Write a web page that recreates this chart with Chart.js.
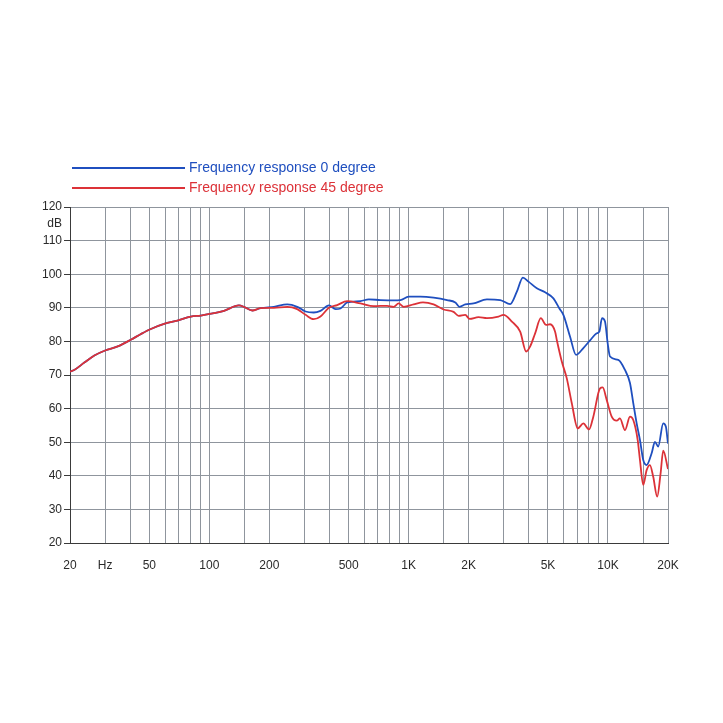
<!DOCTYPE html>
<html>
<head>
<meta charset="utf-8">
<title>Frequency response</title>
<script src="https://cdn.jsdelivr.net/npm/chart.js@4.4.1/dist/chart.umd.min.js"></script>
<style>
    html, body { margin: 0; padding: 0; background: #fff; }
    #wrap { width: 723px; height: 723px; position: relative; }
</style>
</head>
<body>
<div id="wrap"><canvas id="fr"></canvas></div>
<script>
// Frekans (Hz) ve seviye (dB) değerleri
const freq0 = [20, 21, 23.6, 26.5, 30, 34.7, 40.4, 45.4, 50.9, 59.3, 69.2, 80.7, 90.6, 105.6, 118.5, 140.8, 149.2, 164.4, 180.9,
    210.9, 246, 276, 304, 334, 361, 398, 430, 455, 492, 573, 631, 722, 841, 909, 1000, 1144, 1334, 1557, 1714, 1800, 1923,
    2116, 2470, 2879, 3231, 3490, 3741, 3991, 4395, 4836, 5322, 5704, 5973, 6454, 6916, 7522, 8127, 8779, 9046, 9333, 9661,
    9966, 10235, 11260, 12168, 12891, 13390, 13926, 14465, 15026, 15625, 16554, 17196, 17860, 18923, 19520, 20000];
const spl0 = [71.0, 71.5, 73.7, 75.8, 77.3, 78.5, 80.5, 82.2, 83.7, 85.2, 86.2, 87.4, 87.7, 88.4, 89.1, 90.7, 90.3, 89.2, 89.9,
    90.3, 91.0, 90.3, 88.9, 88.6, 89.1, 90.7, 89.6, 89.8, 91.6, 92.0, 92.5, 92.3, 92.2, 92.3, 93.3, 93.3, 93.0, 92.3, 91.6, 90.3, 91.0,
    91.3, 92.5, 92.3, 91.1, 94.8, 99.0, 97.8, 95.8, 94.6, 92.8, 89.8, 87.9, 81.4, 76.0, 78.0, 80.3, 82.4, 82.9, 86.9, 85.9,
    79.4, 75.5, 74.5, 71.5, 67.6, 61.6, 55.6, 50.7, 44.7, 43.2, 46.7, 50.1, 48.7, 55.6, 54.6, 49.6];

const freq45 = [20, 21, 23.6, 26.5, 30, 34.7, 40.4, 45.4, 50.9, 59.3, 69.2, 80.7, 90.6, 105.6, 118.5, 140.8, 149.2, 164.4, 180.9,
    210.9, 246, 276, 304, 334, 361, 398, 438, 491, 573, 668, 780, 841, 891, 944, 1059, 1180, 1334, 1497, 1680, 1780, 1923,
    2021, 2242, 2470, 2823, 2991, 3295, 3626, 3886, 4070, 4310, 4603, 4893, 5124, 5428, 5536, 5864, 6212, 6582, 7053, 7522,
    8034, 8440, 9120, 9408, 9851, 10437, 11055, 11482, 12168, 12891, 13390, 14087, 14465, 15026, 15625, 16233, 16862, 17656,
    18360, 18923, 20000];
const spl45 = [71.0, 71.5, 73.7, 75.8, 77.3, 78.5, 80.5, 82.2, 83.7, 85.2, 86.2, 87.4, 87.7, 88.4, 89.1, 90.7, 90.3, 89.2, 89.9,
    90.0, 90.3, 89.6, 87.9, 86.6, 87.4, 90.0, 90.8, 92.0, 91.3, 90.5, 90.6, 90.3, 91.3, 90.3, 91.0, 91.6, 91.0, 89.5, 88.8, 87.6, 87.9,
    86.7, 87.2, 86.9, 87.4, 87.9, 85.9, 82.9, 77.0, 78.5, 82.4, 86.9, 84.9, 85.1, 82.9, 80.4, 74.0, 69.0, 61.6, 54.1, 55.6,
    53.8, 57.6, 66.0, 66.3, 62.6, 57.6, 56.4, 57.1, 53.6, 57.6, 56.6, 50.7, 44.7, 37.3, 41.7, 43.2, 39.7, 33.8,
    40.7, 47.5, 42.0];

// Eksen çizgileri ve etiketler
const xGridValues = [20, 30, 40, 50, 60, 70, 80, 90, 100, 150, 200, 300, 400, 500, 600, 700, 800, 900,
    1000, 1500, 2000, 3000, 4000, 5000, 6000, 7000, 8000, 9000, 10000, 15000, 20000];
const xLabelValues = [20, 30, 50, 100, 200, 500, 1000, 2000, 5000, 10000, 20000];
const xLabelTexts = ['20', 'Hz', '50', '100', '200', '500', '1K', '2K', '5K', '10K', '20K'];
const yUnitValue = 115;
const yUnitText = 'dB';

const seriesNames = ['Frequency response 0 degree', 'Frequency response 45 degree'];
const seriesColors = ['#1f4fbf', '#dc3238'];

const FONT = '"Liberation Sans", Arial, sans-serif';
const GRID = '#8f959d';
const AXIS = '#3a3a3a';

function toPoints(xs, ys) {
    return xs.map((x, i) => ({ x: x, y: ys[i] }));
}

// Sol üstteki açıklama
const legendPlugin = {
    id: 'topLegend',
    afterDraw(chart) {
        const ctx = chart.ctx;
        ctx.save();
        ctx.font = '14px ' + FONT;
        ctx.textBaseline = 'middle';
        chart.data.datasets.forEach((ds, i) => {
            const y = 168 + i * 20;
            ctx.strokeStyle = ds.borderColor;
            ctx.lineWidth = 2;
            ctx.beginPath();
            ctx.moveTo(72, y);
            ctx.lineTo(185, y);
            ctx.stroke();
            ctx.fillStyle = ds.borderColor;
            ctx.fillText(ds.label, 189, y);
        });
        ctx.restore();
    }
};

document.addEventListener('DOMContentLoaded', function() {
    const ctx = document.getElementById('fr').getContext('2d');
    new Chart(ctx, {
        type: 'line',
        data: {
            datasets: [
                {
                    label: seriesNames[0],
                    data: toPoints(freq0, spl0),
                    borderColor: seriesColors[0],
                    borderWidth: 1.8,
                    pointRadius: 0,
                    cubicInterpolationMode: 'monotone',
                    order: 2
                },
                {
                    label: seriesNames[1],
                    data: toPoints(freq45, spl45),
                    borderColor: seriesColors[1],
                    borderWidth: 1.8,
                    pointRadius: 0,
                    cubicInterpolationMode: 'monotone',
                    order: 1
                }
            ]
        },
        options: {
            responsive: true,
            maintainAspectRatio: false,
            animation: false,
            layout: { padding: { top: 207, right: 55, bottom: 0, left: 0 } },
            plugins: {
                legend: { display: false },
                tooltip: { enabled: false }
            },
            scales: {
                x: {
                    type: 'logarithmic',
                    min: 20,
                    max: 20000,
                    afterBuildTicks: scale => {
                        scale.ticks = xGridValues.map(v => ({ value: v }));
                    },
                    afterFit: scale => { scale.height = 180; },
                    border: { color: AXIS, width: 1 },
                    grid: { color: GRID, lineWidth: 1, drawTicks: false },
                    ticks: {
                        autoSkip: false,
                        maxRotation: 0,
                        padding: 15,
                        color: '#2a2a2a',
                        font: { family: FONT, size: 12 },
                        callback: function(value) {
                            const idx = xLabelValues.indexOf(value);
                            return idx >= 0 ? xLabelTexts[idx] : '';
                        }
                    }
                },
                y: {
                    type: 'linear',
                    min: 20,
                    max: 120,
                    afterFit: scale => { scale.width = 70; },
                    border: { color: AXIS, width: 1 },
                    grid: {
                        color: c => (c.tick && c.tick.value % 10 !== 0) ? 'rgba(0,0,0,0)' : GRID,
                        tickColor: c => (c.tick && c.tick.value % 10 !== 0) ? 'rgba(0,0,0,0)' : AXIS,
                        lineWidth: 1,
                        tickLength: 6
                    },
                    ticks: {
                        stepSize: 5,
                        autoSkip: false,
                        padding: 2,
                        color: '#2a2a2a',
                        font: { family: FONT, size: 12 },
                        callback: function(value) {
                            if (value === yUnitValue) return yUnitText;
                            return value % 10 === 0 ? String(value) : '';
                        }
                    }
                }
            }
        },
        plugins: [legendPlugin]
    });
});
</script>
</body>
</html>
